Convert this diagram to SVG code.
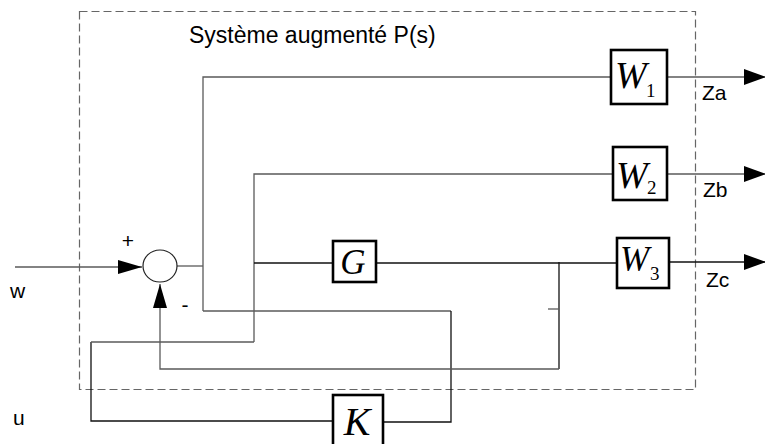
<svg xmlns="http://www.w3.org/2000/svg" width="765" height="444" viewBox="0 0 765 444">
  <style>
    .txt { font-family: "Liberation Sans", Arial, sans-serif; font-size: 21px; fill: #000; }
    .title { font-size: 23px; }
    .blk { font-family: "Liberation Serif", "Times New Roman", serif; font-style: italic; fill: #000; }
    .sub { font-family: "Liberation Serif", "Times New Roman", serif; font-size: 19px; fill: #000; }
    .box { fill: #fff; stroke: #000; stroke-width: 2.6; }
    .gray { fill: none; stroke: #5a5a5a; stroke-width: 1.3; }
    .dark { fill: none; stroke: #111; stroke-width: 1.3; }
    .frame { fill: none; stroke: #666; stroke-width: 1.2; stroke-dasharray: 8 4; }
  </style>
  <defs>
    <marker id="arrIn" markerUnits="userSpaceOnUse" markerWidth="24" markerHeight="14" refX="24" refY="7" orient="auto">
      <path d="M0,0 L24,7 L0,14 z" fill="#000"/>
    </marker>
    <marker id="arrOut" markerUnits="userSpaceOnUse" markerWidth="22" markerHeight="16" refX="22" refY="8" orient="auto">
      <path d="M0,0 L22,8 L0,16 z" fill="#000"/>
    </marker>
  </defs>

  <rect width="765" height="444" fill="#fff"/>

  <!-- augmented plant boundary -->
  <g id="frame">
    <rect class="frame" x="79.5" y="11.5" width="616" height="378"/>
    <text class="txt title" x="189" y="43">Système augmenté P(s)</text>
  </g>

  <!-- signal lines -->
  <g id="connectors">
    <path class="gray" d="M15,267 H142" marker-end="url(#arrIn)"/>
    <path class="gray" d="M177,266 H203"/>
    <path class="gray" d="M203,311 V77 H611"/>
    <path class="gray" d="M254,342 V174 H613"/>
    <path class="dark" d="M254,263 H333"/>
    <path class="dark" d="M376,263 H617"/>
    <path class="gray" d="M203,311 H451"/>
    <path class="dark" d="M451,311 V422 H383"/>
    <path class="dark" d="M333,421 H91 V342"/>
    <path class="gray" d="M91,342 H254"/>
    <path class="dark" d="M559,262 V369"/>
    <path class="gray" d="M559,369 H160 V284" marker-end="url(#arrIn)"/>
    <path class="gray" d="M548,309 H559"/>
    <path class="gray" d="M667,77 H766" marker-end="url(#arrOut)"/>
    <path class="gray" d="M667,174 H766" marker-end="url(#arrOut)"/>
    <path class="dark" d="M669,262 H766" marker-end="url(#arrOut)"/>
  </g>

  <!-- summing junction -->
  <g id="sum">
    <ellipse cx="160" cy="266" rx="17" ry="16" fill="#fff" stroke="#222" stroke-width="1.2"/>
    <text class="txt" x="128" y="248" text-anchor="middle">+</text>
    <text class="txt" x="185" y="312" text-anchor="middle">-</text>
  </g>

  <g id="G">
    <rect class="box" x="333" y="241" width="43" height="41"/>
    <text class="blk" x="353" y="274" font-size="35" text-anchor="middle">G</text>
  </g>

  <g id="K">
    <rect class="box" x="333" y="395" width="50" height="52"/>
    <text class="blk" x="357" y="435" font-size="40" text-anchor="middle">K</text>
  </g>

  <g id="W1">
    <rect class="box" x="611" y="50" width="56" height="54"/>
    <text class="blk" x="615" y="88" font-size="38">W</text>
    <text class="sub" x="646" y="97">1</text>
  </g>

  <g id="W2">
    <rect class="box" x="613" y="147" width="54" height="53"/>
    <text class="blk" x="616" y="188" font-size="38">W</text>
    <text class="sub" x="647" y="194">2</text>
  </g>

  <g id="W3">
    <rect class="box" x="617" y="238" width="52" height="50"/>
    <text class="blk" x="620" y="271" font-size="35">W</text>
    <text class="sub" x="650" y="280">3</text>
  </g>

  <!-- external signal names -->
  <g id="labels">
    <text class="txt" x="10" y="298">w</text>
    <text class="txt" x="13" y="425">u</text>
    <text class="txt" x="702" y="100">Za</text>
    <text class="txt" x="703" y="197">Zb</text>
    <text class="txt" x="706" y="287">Zc</text>
  </g>
</svg>
